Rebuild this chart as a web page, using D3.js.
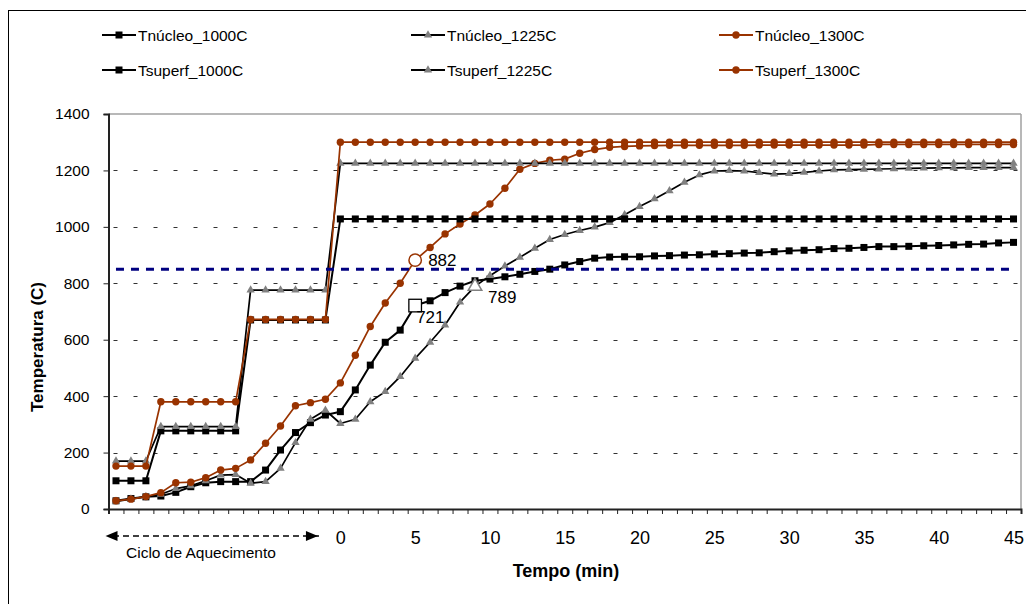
<!DOCTYPE html>
<html><head><meta charset="utf-8">
<script src="https://cdn.jsdelivr.net/npm/d3@7"></script>
<style>body{margin:0;background:#fff;} svg{display:block;font-family:"Liberation Sans",Arial,sans-serif;}</style>
</head><body><svg id="c" width="1026" height="604"></svg>
<script>
// ---------- DATA ----------
const categories = [-15,-14,-13,-12,-11,-10,-9,-8,-7,-6,-5,-4,-3,-2,-1,
  0,1,2,3,4,5,6,7,8,9,10,11,12,13,14,15,16,17,18,19,20,21,22,23,24,25,26,27,28,29,30,
  31,32,33,34,35,36,37,38,39,40,41,42,43,44,45];
const xTickValues = [0,5,10,15,20,25,30,35,40,45];
const xTickLabels = ["0","5","10","15","20","25","30","35","40","45"];
const yTickValues = [0,200,400,600,800,1000,1200,1400];
const yTickLabels = ["0","200","400","600","800","1000","1200","1400"];
const seriesNames = ["Tnúcleo_1000C","Tnúcleo_1225C","Tnúcleo_1300C","Tsuperf_1000C","Tsuperf_1225C","Tsuperf_1300C"];

const nucleo1000 = [29,37,43,46,59,79,93,97,97,97,138,209,271,306,333,
  345,422,510,591,634,721,738,767,790,809,815,823,832,842,850,865,877,889,893,894,894,897,898,900,901,904,905,907,908,912,915,
  917,919,923,924,927,930,930,931,933,934,936,938,939,943,945];
const nucleo1225 = [27,35,44,52,72,82,100,120,122,91,97,144,235,318,350,
  303,318,380,416,469,534,591,652,733,789,827,861,892,924,955,973,987,999,1015,1043,1072,1099,1128,1158,1184,1198,1199,1198,1192,1187,1189,
  1193,1198,1202,1203,1204,1205,1206,1207,1208,1209,1209,1210,1210,1210,1210];
const nucleo1300 = [29,35,44,58,93,95,111,138,144,174,233,294,366,377,389,
  447,545,647,730,800,882,927,975,1010,1042,1081,1137,1204,1225,1236,1240,1261,1274,1282,1285,1287,1288,1289,1289,1289,1289,1289,1289,1290,1290,1290,
  1290,1290,1290,1290,1290,1292,1292,1292,1292,1292,1292,1292,1292,1292,1292];
const superf1000 = [100,100,100,277,277,277,277,277,277,670,670,670,670,670,670,
  1028,1028,1028,1028,1028,1028,1028,1028,1028,1028,1028,1028,1028,1028,1028,1028,1028,1028,1028,1028,1028,1028,1028,1028,1028,1028,1028,1028,1028,1028,1028,
  1028,1028,1028,1028,1028,1028,1028,1028,1028,1028,1028,1028,1028,1028,1028];
const superf1225 = [170,170,170,292,292,292,292,292,292,776,776,776,776,776,776,
  1225,1225,1225,1225,1225,1225,1225,1225,1225,1225,1225,1225,1225,1225,1225,1225,1225,1225,1225,1225,1225,1225,1225,1225,1225,1225,1225,1225,1225,1225,1225,
  1225,1225,1225,1225,1225,1225,1225,1225,1225,1225,1225,1225,1225,1225,1225];
const superf1300 = [152,152,152,380,380,380,380,380,380,672,672,672,672,672,672,
  1300,1300,1300,1300,1300,1300,1300,1300,1300,1300,1300,1300,1300,1300,1300,1300,1300,1300,1300,1300,1300,1300,1300,1300,1300,1300,1300,1300,1300,1300,1300,
  1300,1300,1300,1300,1300,1300,1300,1300,1300,1300,1300,1300,1300,1300,1300];
const limitTemp = 850;
// highlighted points: [series index, category]
const highlightSeries = [2, 0, 1];
const highlightCats = [5, 5, 9];
const cycleLabel = "Ciclo de Aquecimento";
const xTitle = "Tempo (min)";
const yTitle = "Temperatura (C)";

// ---------- CHART ----------
const svg = d3.select("#c");
const L = 108.5, R = 1021, T = 114, B = 509;
const x = d3.scaleLinear().domain([-15.5, 45.5]).range([L, R]);
const y = d3.scaleLinear().domain([0, 1400]).range([B, T]);

svg.append("rect").attr("x",8.5).attr("y",10.5).attr("width",1040).attr("height",620)
  .attr("fill","none").attr("stroke","#000").attr("stroke-width",1);

// gridlines
svg.append("g").selectAll("line").data(yTickValues.filter(v=>v>0 && v<1400)).join("line")
  .attr("x1",L).attr("x2",R).attr("y1",d=>Math.round(y(d))+0.5).attr("y2",d=>Math.round(y(d))+0.5)
  .attr("stroke","#333").attr("stroke-width",1).attr("stroke-dasharray","4,16").attr("stroke-dashoffset",-5);

// top/right frame
svg.append("line").attr("x1",L).attr("x2",R).attr("y1",T).attr("y2",T).attr("stroke","#a0a0a0").attr("stroke-width",1.5);
svg.append("line").attr("x1",R).attr("x2",R).attr("y1",T).attr("y2",B).attr("stroke","#a0a0a0").attr("stroke-width",1.5);

// axes
const boundaries = categories.map(c=>c-0.5).concat([categories[categories.length-1]+0.5]);
const xAxis = svg.append("g").attr("transform",`translate(0,${B})`)
  .call(d3.axisBottom(x).tickValues(boundaries).tickSize(5).tickFormat(""));
xAxis.select(".domain").attr("stroke","#222").attr("stroke-width",2);
xAxis.selectAll(".tick line").attr("stroke","#222");
const xLab = svg.append("g").attr("transform",`translate(0,${B})`)
  .call(d3.axisBottom(x).tickValues(xTickValues).tickSize(0).tickFormat((d,i)=>xTickLabels[i]));
xLab.select(".domain").remove();
xLab.selectAll("text").attr("y",35).attr("dy",0).attr("font-size",18).attr("fill","#000")
  .attr("font-family","Liberation Sans, Arial, sans-serif");

const yAxis = svg.append("g").attr("transform",`translate(${L},0)`)
  .call(d3.axisLeft(y).tickValues(yTickValues).tickSize(5).tickPadding(14).tickFormat((d,i)=>yTickLabels[i]));
yAxis.select(".domain").attr("stroke","#222").attr("stroke-width",2);
yAxis.selectAll(".tick line").attr("stroke","#222");
yAxis.selectAll("text").attr("font-size",15.5).attr("fill","#000").attr("font-family","Liberation Sans, Arial, sans-serif");

// titles
svg.append("text").attr("x",566).attr("y",577).attr("text-anchor","middle")
  .attr("font-size",18).attr("font-weight","bold").text(xTitle);
svg.append("text").attr("transform","translate(43,347) rotate(-90)").attr("text-anchor","middle")
  .attr("font-size",17).attr("font-weight","bold").text(yTitle);

// series
const seriesData = [nucleo1000, nucleo1225, nucleo1300, superf1000, superf1225, superf1300];
const styles = [
  {line:"#000", w:2, marker:"square", fill:"#000"},
  {line:"#000", w:1.7, marker:"triangle", fill:"#808080"},
  {line:"#993300", w:1.7, marker:"circle", fill:"#993300"},
  {line:"#000", w:2, marker:"square", fill:"#000"},
  {line:"#000", w:1.7, marker:"triangle", fill:"#808080"},
  {line:"#993300", w:1.7, marker:"circle", fill:"#993300"}
];
const symSquare = d3.symbol().type(d3.symbolSquare).size(49);
const symTri = d3.symbol().type(d3.symbolTriangle).size(30);
function marker(g, type, fill, cx, cy){
  if(type==="circle") g.append("circle").attr("cx",cx).attr("cy",cy).attr("r",3.7).attr("fill",fill);
  else g.append("path").attr("d", type==="square"?symSquare():symTri())
    .attr("transform",`translate(${cx},${cy})`).attr("fill",fill);
}
const line = d3.line().x((d,i)=>x(categories[i])).y(d=>y(d));
seriesData.forEach((arr,si)=>{
  const st = styles[si];
  const g = svg.append("g");
  g.append("path").attr("d",line(arr)).attr("fill","none").attr("stroke",st.line).attr("stroke-width",st.w)
    .attr("stroke-linejoin","round");
  arr.forEach((v,i)=>marker(g, st.marker, st.fill, x(categories[i]), y(v)));
});

// 850 limit line
svg.append("line").attr("x1",x(categories[0])).attr("x2",x(categories[categories.length-1]))
  .attr("y1",y(limitTemp)).attr("y2",y(limitTemp))
  .attr("stroke","#000080").attr("stroke-width",3).attr("stroke-dasharray","8,7");

// highlighted points
const hl = svg.append("g");
highlightSeries.forEach((si,k)=>{
  const c = highlightCats[k];
  const v = seriesData[si][categories.indexOf(c)];
  const cx = x(c), cy = y(v);
  const mk = styles[si].marker;
  if(mk==="circle"){
    hl.append("circle").attr("cx",cx).attr("cy",cy).attr("r",6.2).attr("fill","#fff").attr("stroke","#993300").attr("stroke-width",1.5);
    hl.append("text").attr("x",cx+13).attr("y",cy+6).attr("font-size",17).text(String(v));
  } else if(mk==="square"){
    hl.append("rect").attr("x",cx-6.3).attr("y",cy-6.3).attr("width",12.6).attr("height",12.6).attr("fill","#fff").attr("stroke","#000").attr("stroke-width",1.3);
    hl.append("text").attr("x",cx+1).attr("y",cy+17).attr("font-size",17).text(String(v));
  } else {
    hl.append("path").attr("d",d3.symbol().type(d3.symbolTriangle).size(80)())
      .attr("transform",`translate(${cx},${cy})`).attr("fill","#fff").attr("stroke","#808080").attr("stroke-width",1.5);
    hl.append("text").attr("x",cx+13).attr("y",cy+17).attr("font-size",17).text(String(v));
  }
});

// legend
const legX = [102, 411, 719], legY = [35, 70];
seriesNames.forEach((name,si)=>{
  const st = styles[si];
  const lx = legX[si%3], ly = legY[Math.floor(si/3)];
  const g = svg.append("g");
  g.append("line").attr("x1",lx).attr("x2",lx+34).attr("y1",ly).attr("y2",ly).attr("stroke",st.line).attr("stroke-width",2);
  marker(g, st.marker, st.fill, lx+17, ly);
  g.append("text").attr("x",lx+36).attr("y",ly+5.5).attr("font-size",15.5).text(name);
});

// heating cycle arrow
const ay = 536;
const ag = svg.append("g");
ag.append("line").attr("x1",x(-15.2)).attr("x2",x(-1.3)).attr("y1",ay).attr("y2",ay)
  .attr("stroke","#000").attr("stroke-width",1.3).attr("stroke-dasharray","6,4");
ag.append("path").attr("d",`M${x(-15.7)},${ay} l12,-5 l0,10 z`).attr("fill","#000");
ag.append("path").attr("d",`M${x(-1.5)},${ay} l-12,-5 l0,10 z`).attr("fill","#000");
svg.append("text").attr("x",126).attr("y",558).attr("text-anchor","start")
  .attr("font-size",15.5).text(cycleLabel);
</script></body></html>
